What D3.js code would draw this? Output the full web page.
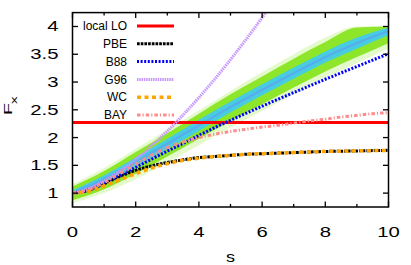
<!DOCTYPE html>
<html>
<head>
<meta charset="utf-8">
<script src="https://cdn.jsdelivr.net/npm/d3@7/dist/d3.min.js"></script>
<style>
  html, body { margin: 0; padding: 0; background: #fff; }
  svg { display: block; }
  text { font-family: "Liberation Sans", Arial, sans-serif; fill: #000; }
</style>
</head>
<body>
<svg id="chart" width="411" height="265"></svg>
<script>
// ---- data ----
const sGrid = [0,0.5,1,1.5,2,2.5,3,3.5,4,4.5,5,5.5,6,6.5,7,7.5,8,8.5,9,9.5,10];
const localLO = [2.27,2.27,2.27,2.27,2.27,2.27,2.27,2.27,2.27,2.27,2.27,2.27,2.27,2.27,2.27,2.27,2.27,2.27,2.27,2.27,2.27];
const pbe  = [1.00,1.05,1.17,1.30,1.41,1.49,1.55,1.60,1.64,1.66,1.68,1.70,1.71,1.72,1.73,1.74,1.75,1.755,1.76,1.765,1.77];
const b88  = [1.00,1.057,1.178,1.32,1.466,1.61,1.756,1.895,2.04,2.18,2.31,2.44,2.565,2.69,2.81,2.93,3.05,3.165,3.28,3.395,3.51];
const g96  = [1.00,1.076,1.215,1.395,1.608,1.85,2.117,2.408,2.72,3.052,3.404,3.773,4.16,4.563,null,null,null,null,null,null,null];
const wc   = [1.00,1.035,1.13,1.24,1.35,1.45,1.53,1.59,1.63,1.66,1.68,1.70,1.71,1.72,1.73,1.74,1.75,1.755,1.76,1.765,1.77];
const bay  = [1.00,1.06,1.19,1.35,1.52,1.68,1.82,1.92,2.00,2.06,2.11,2.15,2.19,2.22,2.26,2.30,2.33,2.37,2.40,2.43,2.45];

// density cloud envelopes
const cloudS       = [0,1,2,3,4,5,6,7,8,9,10];
const cloudOuterLo = [0.82,1.00,1.25,1.55,1.86,2.18,2.48,2.78,3.08,3.34,3.60];
const cloudOuterHi = [1.16,1.45,1.80,2.14,2.49,2.84,3.18,3.50,3.80,4.00,4.00];
const cloudGreenLo = [0.87,1.07,1.35,1.66,1.98,2.30,2.60,2.90,3.19,3.45,3.70];
const cloudGreenHi = [1.12,1.40,1.74,2.08,2.43,2.78,3.10,3.42,3.72,3.98,4.00];
const cloudCyanLo  = [0.95,1.18,1.47,1.79,2.12,2.45,2.76,3.06,3.35,3.60,3.84];
const cloudCyanHi  = [1.05,1.32,1.64,1.98,2.32,2.65,2.96,3.26,3.55,3.80,3.98];
const cloudCore    = [1.00,1.25,1.56,1.89,2.22,2.55,2.86,3.16,3.45,3.70,3.92];

const legendNames = ["local LO","PBE","B88","G96","WC","BAY"];
const xTicks = [0,2,4,6,8,10];
const xMinor = [1,3,5,7,9];
const yTicks = [1,1.5,2,2.5,3,3.5,4];

// ---- layout ----
const svg = d3.select("#chart");
const L = 72.5, R = 388.5, T = 12.6, B = 207;
const x = d3.scaleLinear().domain([0,10]).range([L,R]);
const y = d3.scaleLinear().domain([0.75,4.25]).range([B,T]);

svg.append("defs").append("clipPath").attr("id","clip")
  .append("rect").attr("x",L).attr("y",T).attr("width",R-L).attr("height",B-T);

const plot = svg.append("g").attr("clip-path","url(#clip)");

// cloud bands
function band(lo, hi, color, op) {
  const a = d3.area().x((d,i)=>x(cloudS[i])).y0((d,i)=>y(lo[i])).y1((d,i)=>y(hi[i])).curve(d3.curveMonotoneX);
  plot.append("path").attr("d", a(cloudS)).attr("fill", color).attr("opacity", op);
}
band(cloudOuterLo, cloudOuterHi, "#d2f7aa", 0.6);
band(cloudGreenLo, cloudGreenHi, "#8ee62a", 1);
band(cloudCyanLo, cloudCyanHi, "#48cce0", 1);
plot.append("path")
  .attr("d", d3.line().x((d,i)=>x(cloudS[i])).y(d=>y(d)).curve(d3.curveMonotoneX)(cloudCore))
  .attr("fill","none").attr("stroke","#5aa8f0").attr("stroke-width",2.5).attr("opacity",0.8);

// curves
const series = [
  {name:"local LO", vals: localLO, color:"#ff0000", dash:null, w:3},
  {name:"PBE", vals: pbe, color:"#000000", dash:"2.7,1", w:3},
  {name:"B88", vals: b88, color:"#0000ff", dash:"2,1.6", w:3},
  {name:"G96", vals: g96, color:"#c896ff", dash:"1.5,0.8", w:3},
  {name:"WC", vals: wc, color:"#ffa500", dash:"4,3.5", w:3.5},
  {name:"BAY", vals: bay, color:"#ff8c8c", dash:"3.5,2,1.2,2", w:3}
];
const line = d3.line().defined(d=>d[1]!=null).x(d=>x(d[0])).y(d=>y(d[1])).curve(d3.curveMonotoneX);
series.forEach(s => {
  plot.append("path")
    .attr("d", line(sGrid.map((v,i)=>[v, s.vals[i]])))
    .attr("fill","none").attr("stroke", s.color).attr("stroke-width", s.w)
    .attr("stroke-dasharray", s.dash);
});

// frame
svg.append("rect").attr("x",L).attr("y",T).attr("width",R-L).attr("height",B-T)
  .attr("fill","none").attr("stroke","#000").attr("stroke-width",1.5);

// ticks
const tk = svg.append("g").attr("stroke","#000").attr("stroke-width",1.3);
xTicks.forEach(v => {
  tk.append("line").attr("x1",x(v)).attr("x2",x(v)).attr("y1",B).attr("y2",B-5.5);
  tk.append("line").attr("x1",x(v)).attr("x2",x(v)).attr("y1",T).attr("y2",T+5.5);
});
xMinor.forEach(v => {
  tk.append("line").attr("x1",x(v)).attr("x2",x(v)).attr("y1",B).attr("y2",B-3);
  tk.append("line").attr("x1",x(v)).attr("x2",x(v)).attr("y1",T).attr("y2",T+3);
});
yTicks.forEach(v => {
  tk.append("line").attr("x1",L).attr("x2",L+5.5).attr("y1",y(v)).attr("y2",y(v));
  tk.append("line").attr("x1",R).attr("x2",R-5.5).attr("y1",y(v)).attr("y2",y(v));
});

// tick labels
xTicks.forEach(v => {
  svg.append("text").attr("transform",`translate(${x(v)},237) scale(1.45,1)`)
    .attr("text-anchor","middle").attr("font-size",14).text(v);
});
yTicks.forEach(v => {
  svg.append("text").attr("transform",`translate(58.5,${y(v)+5}) scale(1.45,1)`)
    .attr("text-anchor","end").attr("font-size",14).text(v);
});

// axis labels
svg.append("text").attr("transform",`translate(${(L+R)/2},262) scale(1.2,1)`)
  .attr("text-anchor","middle").attr("font-size",15).text("s");
const yl = svg.append("text").attr("transform","translate(12,115) rotate(-90) scale(1.7,1)")
  .attr("font-size",11.5);
yl.append("tspan").text("F");
yl.append("tspan").attr("font-size",9).attr("dy",5).attr("dx",-0.5).text("x");

// legend
series.forEach((s,i) => {
  const cy = 26 + i*17.8;
  svg.append("text").attr("x",127).attr("y",cy+4.2).attr("text-anchor","end")
    .attr("font-size",12).text(s.name);
  svg.append("line").attr("x1",137).attr("x2",174).attr("y1",cy).attr("y2",cy)
    .attr("stroke",s.color).attr("stroke-width",s.w).attr("stroke-dasharray",s.dash);
});
</script>
</body>
</html>
